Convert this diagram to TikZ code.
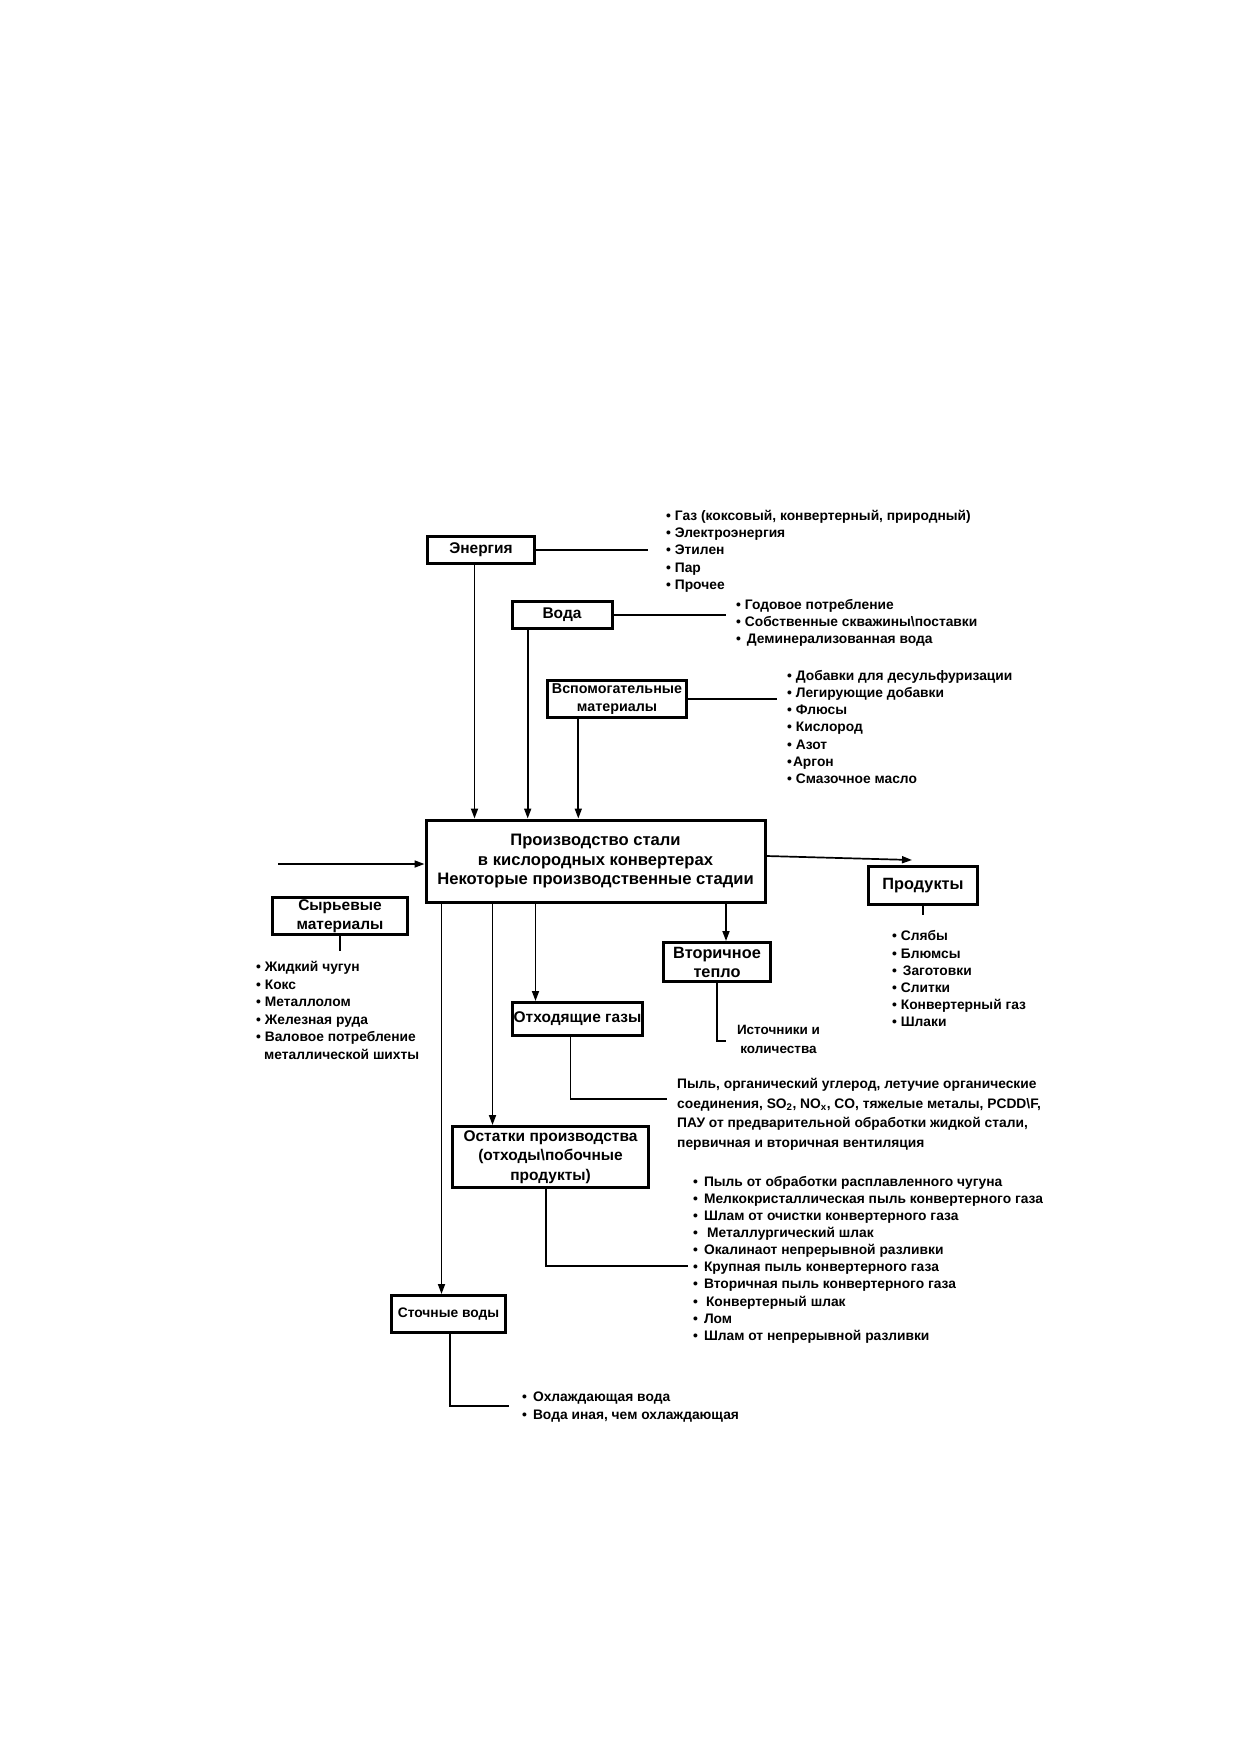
\documentclass[tikz,border=0pt]{standalone}
\usepackage{fontspec}
\setmainfont{Liberation Sans}
\usetikzlibrary{arrows.meta}
\newcommand{\dotItem}{\textbullet\ }
\newcommand{\wideItem}{\textbullet\hspace{6pt}}

\begin{document}
\begin{tikzpicture}[%%
  x=1pt,y=-1pt,%%
  boxStyle/.style={draw,line width=3pt,inner sep=0pt,align=center,%%
    font=\fontsize{15.5}{19.2}\selectfont\bfseries},%%
  listStyle/.style={anchor=north west,inner sep=0pt,align=left,%%
    font=\fontsize{13.8}{17.2}\selectfont\bfseries},%%
  lineStyle/.style={-,line width=1.7pt},%%
  arrowStyle/.style={lineStyle,-{Triangle[length=10pt,width=7pt]}}%%
]
%%
%% Page.
\useasboundingbox (0,0) rectangle (1240,1754);
%%
%% Boxes.
\node[boxStyle,minimum width=107,minimum height=27] (energy) at (481,550) {Энергия};
\node[boxStyle,minimum width=100,minimum height=27] (water) at (562,615) {Вода};
\node[boxStyle,minimum width=139,minimum height=37,
  font=\fontsize{14.3}{18.5}\selectfont\bfseries] (aux) at (617,699)
  {Вспомогательные\\материалы};
\node[boxStyle,minimum width=339,minimum height=82,
  font=\fontsize{16.6}{19.3}\selectfont\bfseries] (main) at (595.5,861)
  {Производство стали\\в кислородных конвертерах\\Некоторые производственные стадии};
\node[boxStyle,minimum width=135,minimum height=37] (raw) at (340,916)
  {Сырьевые\\материалы};
\node[boxStyle,minimum width=109,minimum height=38,
  font=\fontsize{16.3}{19}\selectfont\bfseries] (products) at (923,885.5) {Продукты};
\node[boxStyle,minimum width=107,minimum height=39,
  font=\fontsize{16.3}{19}\selectfont\bfseries] (heat) at (717,962)
  {Вторичное\\тепло};
\node[boxStyle,minimum width=130,minimum height=33] (gases) at (577.5,1019)
  {Отходящие газы};
\node[boxStyle,minimum width=196,minimum height=61] (residues) at (550.5,1157)
  {Остатки производства\\(отходы\textbackslash побочные\\продукты)};
\node[boxStyle,minimum width=114,minimum height=37,
  font=\fontsize{13.8}{17}\selectfont\bfseries] (wastewater) at (448.5,1314)
  {Сточные воды};
%%
%% Lists and notes.
\node[listStyle] (energyList) at (666,510)
  {\dotItem Газ (коксовый, конвертерный, природный)\\\dotItem Электроэнергия\\
   \dotItem Этилен\\\dotItem Пар\\\dotItem Прочее};
\node[listStyle] (waterList) at (736,599)
  {\dotItem Годовое потребление\\\dotItem Собственные скважины\textbackslash поставки\\
   \dotItem\hspace{2pt}Деминерализованная вода};
\node[listStyle] (auxList) at (787,670)
  {\dotItem Добавки для десульфуризации\\\dotItem Легирующие добавки\\
   \dotItem Флюсы\\\dotItem Кислород\\\dotItem Азот\\\textbullet\hspace{1pt}Аргон\\
   \dotItem Смазочное масло};
\node[listStyle,font=\fontsize{13.8}{17.6}\selectfont\bfseries] (rawList) at (256,961)
  {\dotItem Жидкий чугун\\\dotItem Кокс\\\dotItem Металлолом\\
   \dotItem Железная руда\\\dotItem Валовое потребление\\
   \hspace{8pt}металлической шихты};
\node[listStyle] (productsList) at (892,930.5)
  {\dotItem Слябы\\\dotItem Блюмсы\\\dotItem\hspace{2pt}Заготовки\\
   \dotItem Слитки\\\dotItem Конвертерный газ\\\dotItem Шлаки};
\node[align=center,inner sep=0pt,font=\fontsize{13.5}{19}\selectfont\bfseries]
  (heatNote) at (778.5,1039.5) {Источники и\\количества};
\node[listStyle,font=\fontsize{13.8}{19.5}\selectfont\bfseries] (gasesNote) at (677,1078.5)
  {Пыль, органический углерод, летучие органические\\
   соединения, SO\textsubscript{2}, NO\textsubscript{x}, CO, тяжелые металы, PCDD\textbackslash F,\\
   ПАУ от предварительной обработки жидкой стали,\\
   первичная и вторичная вентиляция};
\node[listStyle,font=\fontsize{13.8}{17.1}\selectfont\bfseries] (residuesList) at (693,1176)
  {\wideItem Пыль от обработки расплавленного чугуна\\
   \wideItem Мелкокристаллическая пыль конвертерного газа\\
   \wideItem Шлам от очистки конвертерного газа\\
   \wideItem\hspace{3pt}Металлургический шлак\\
   \wideItem Окалинаот непрерывной разливки\\
   \wideItem Крупная пыль конвертерного газа\\
   \wideItem Вторичная пыль конвертерного газа\\
   \wideItem\hspace{2pt}Конвертерный шлак\\
   \wideItem Лом\\
   \wideItem Шлам от непрерывной разливки};
\node[listStyle,font=\fontsize{13.8}{17.8}\selectfont\bfseries] (wastewaterList) at (522,1392)
  {\wideItem Охлаждающая вода\\\wideItem Вода иная, чем охлаждающая};
%%
%% Free ends and arrow points.
\coordinate (energyEnd) at (648,550);
\coordinate (waterEnd) at (726,615);
\coordinate (auxEnd) at (777,699);
\coordinate (inStart) at (278,864);
\coordinate (heatEnd) at (726,1041);
\coordinate (gasesEnd) at (667,1099);
\coordinate (residuesEnd) at (688,1266);
\coordinate (wastewaterEnd) at (509,1406);
\coordinate (energyOut) at ([xshift=-6.5pt]energy.south);
\coordinate (waterOut) at ([xshift=-34.3pt]water.south);
\coordinate (auxOut) at ([xshift=-38.7pt]aux.south);
\coordinate (heatIn) at ([xshift=9pt]heat.north);
\coordinate (gasesIn) at ([xshift=-42pt]gases.north);
\coordinate (residuesIn) at ([xshift=-58pt]residues.north);
\coordinate (wastewaterIn) at ([xshift=-7pt]wastewater.north);
%%
%% Inputs.
\draw[lineStyle] (energy.east) -- (energyEnd);
\draw[lineStyle] (water.east) -- (waterEnd);
\draw[lineStyle] (aux.east) -- (auxEnd);
\draw[arrowStyle] (energyOut) -- (energyOut |- main.north);
\draw[arrowStyle] (waterOut) -- (waterOut |- main.north);
\draw[arrowStyle] (auxOut) -- (auxOut |- main.north);
\draw[arrowStyle] (inStart) -- (inStart -| main.west);
\draw[lineStyle] (raw.south) -- ++(0,15);
%%
%% Outputs.
\draw[arrowStyle] ([yshift=5pt]main.east) -- ([xshift=-11pt,yshift=5pt]products.north);
\draw[lineStyle] (products.south) -- ++(0,9);
\draw[arrowStyle] (heatIn |- main.south) -- (heatIn);
\draw[lineStyle] (heat.south) |- (heatEnd);
\draw[arrowStyle] (gasesIn |- main.south) -- (gasesIn);
\draw[lineStyle] ([xshift=-7pt]gases.south) |- (gasesEnd);
\draw[arrowStyle] (residuesIn |- main.south) -- (residuesIn);
\draw[lineStyle] ([xshift=-4.5pt]residues.south) |- (residuesEnd);
\draw[arrowStyle] (wastewaterIn |- main.south) -- (wastewaterIn);
\draw[lineStyle] ([xshift=1.5pt]wastewater.south) |- (wastewaterEnd);
\end{tikzpicture}
\end{document}
